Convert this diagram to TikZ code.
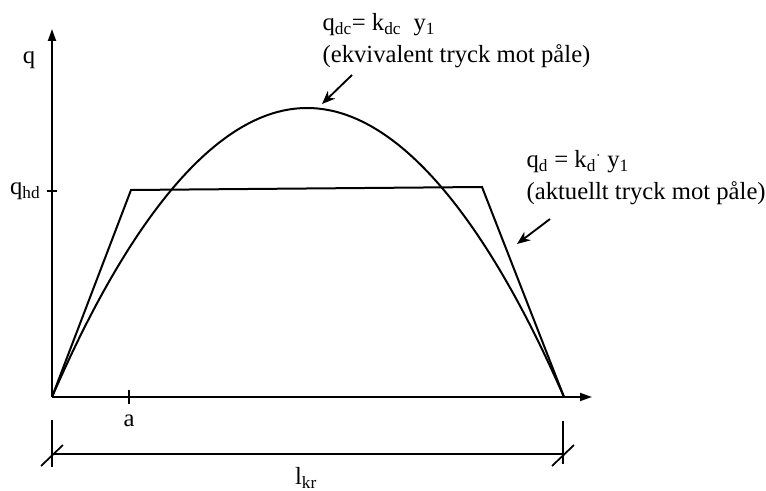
\documentclass[tikz,border=0pt]{standalone}
\usepackage{fontspec}
\setmainfont{Liberation Serif}
\usetikzlibrary{arrows.meta, calc}

\begin{document}
\begin{tikzpicture}[x=0.75pt, y=-0.75pt,
    axis/.style={line width=1.4pt, -{Triangle[length=9pt, width=6pt]}},
    curve/.style={line width=1.5pt},
    dimline/.style={line width=1.3pt},
    pointer/.style={line width=1.4pt, -{Stealth[length=10pt, width=8pt]}},
    lbl/.style={font=\fontsize{18.5}{24}\selectfont, inner sep=1pt},
    note/.style={lbl, align=left, anchor=north west},
]
\useasboundingbox (0,0) rectangle (766,491);

% axes
\coordinate (O)    at (52,397);
\coordinate (Ytop) at (52,29);
\coordinate (Xend) at (592,397);
\draw[axis] (O) -- (Ytop);
\draw[axis] (O) -- (Xend);

\coordinate (Qhd) at (52,191);
\coordinate (A)   at (129,397);
\coordinate (L)   at (564,397);
\draw[dimline] ([xshift=-3.5pt]Qhd) -- ([xshift=3.5pt]Qhd);
\draw[dimline] ([yshift=5pt]A) -- ([yshift=-5pt]A);

\node[lbl] (qlbl)   at (29,60)   {q};
\node[lbl, anchor=east] (qhdlbl) at (42,191) {q\textsubscript{hd}};
\node[lbl] (albl)   at (129,421) {a};

% actual pressure (trapezoid) and equivalent pressure (parabola)
\coordinate (P1)  at (131,190);
\coordinate (P2)  at (482,187);
\coordinate (Top) at (307,108);
\draw[curve] (O) -- (P1) -- (P2) -- (L);
\draw[curve] (O) parabola bend (Top) (L);

% length dimension
\coordinate (D1) at (52,454);
\coordinate (D2) at (563,454);
\draw[dimline] (D1) -- (D2);
\draw[dimline] (52,420) -- (52,467);
\draw[dimline] (563,421) -- (563,464);
\draw[dimline] ($(D1)+(-11,12)$) -- ($(D1)+(11,-9)$);
\draw[dimline] ($(D2)+(-11,12)$) -- ($(D2)+(11,-9)$);
\node[lbl, anchor=north] (llbl) at (306,466) {l\textsubscript{kr}};

% labels with pointers
\node[note] (dclbl) at (321,12)
    {q\textsubscript{dc}= k\textsubscript{dc}\ \ y\textsubscript{1}\\(ekvivalent tryck mot påle)};
\node[note] (dlbl) at (525,149)
    {q\textsubscript{d} = k\textsubscript{d}$^{\cdot}$ y\textsubscript{1}\\(aktuellt tryck mot påle)};

\coordinate (dcfrom) at (352,75);
\coordinate (dcto)   at (322,104);
\coordinate (dfrom)  at (550,219);
\coordinate (dto)    at (517,244);
\draw[pointer] (dcfrom) -- (dcto);
\draw[pointer] (dfrom) -- (dto);
\end{tikzpicture}
\end{document}
